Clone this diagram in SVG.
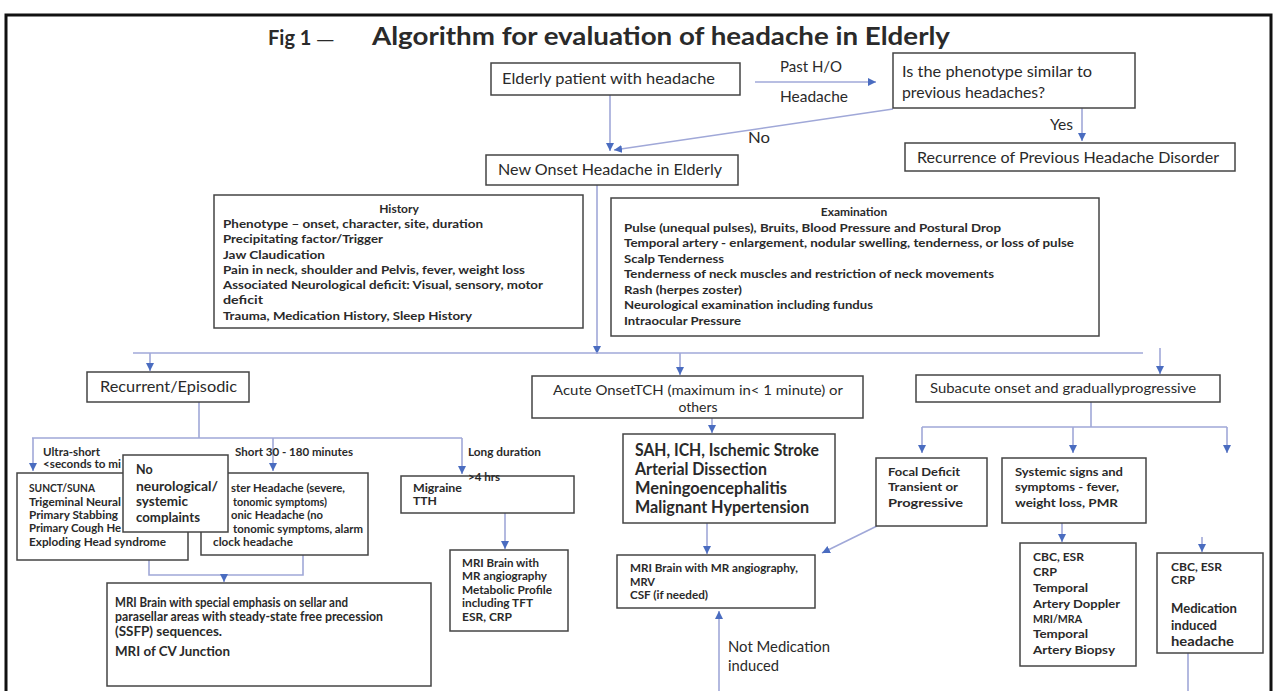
<svg xmlns="http://www.w3.org/2000/svg" width="1274" height="691" viewBox="0 0 1274 691">
<defs>
<marker id="ah" markerUnits="userSpaceOnUse" markerWidth="10" markerHeight="10" refX="8" refY="4" orient="auto"><path d="M0,0 L8,4 L0,8 z" fill="#4a6cc0"/></marker>
<style>
.box{fill:#fff;stroke:#444;stroke-width:1.5}
.t{font-family:Lato,"Open Sans","DejaVu Sans",sans-serif;fill:#2a2a2a;font-weight:700;font-size:11.5px}
.n{font-weight:400;font-size:12px}
.m{font-size:15px;font-weight:400}
.big{font-size:16.5px;font-weight:700}
.c{stroke:#a0a8d8;stroke-width:1.6;fill:none}
.a{marker-end:url(#ah)}
</style>
</defs>
<rect width="1274" height="691" fill="#fff"/>
<rect x="6" y="15" width="1265" height="700" fill="none" stroke="#111" stroke-width="3"/>
<g id="title">
<text class="t" x="268" y="45" style="font-size:20px">Fig 1 <tspan style="font-family:'DejaVu Sans',sans-serif;font-weight:400;font-size:18px">—</tspan></text>
<text class="t" x="372" y="45" style="font-size:25px" textLength="578" lengthAdjust="spacingAndGlyphs">Algorithm for evaluation of headache in Elderly</text>
</g>
<g id="connectors">
<path class="c a" d="M755,82 H876"/>
<path class="c a" d="M610,95 V151"/>
<path class="c a" d="M893,109 L614,150"/>
<path class="c a" d="M1082,108 V141"/>
<path class="c a" d="M597,185 V354"/>
<path class="c" d="M133,353 H1143"/>
<path class="c a" d="M150,353 V371"/>
<path class="c a" d="M680,353 V375"/>
<path class="c a" d="M1160,348 V374"/>
<path class="c" d="M199,402 V438 M32,438 H462"/>
<path class="c a" d="M33,438 V471"/>
<path class="c a" d="M273,438 V471"/>
<path class="c a" d="M462,438 V474"/>
<path class="c a" d="M505,513 V549"/>
<path class="c" d="M149,560 V575 H303 V555"/>
<path class="c a" d="M224,575 V582"/>
<path class="c a" d="M712,418 V433"/>
<path class="c a" d="M707,523 V554"/>
<path class="c a" d="M877,526 L822,553"/>
<path class="c a" d="M719,691 V611"/>
<path class="c" d="M1091,402 V427 M922,427 H1227"/>
<path class="c a" d="M922,427 V453"/>
<path class="c a" d="M1073,427 V453"/>
<path class="c a" d="M1227,427 V453"/>
<path class="c a" d="M1062,523 V542"/>
<path class="c a" d="M1202,537 V552"/>
<path class="c" d="M1188,653 V691"/>
</g>
<g id="labels">
<text class="t m" x="780" y="72" textLength="62" lengthAdjust="spacingAndGlyphs">Past H/O</text>
<text class="t m" x="780" y="102" textLength="68" lengthAdjust="spacingAndGlyphs">Headache</text>
<text class="t m" x="748" y="143" textLength="22" lengthAdjust="spacingAndGlyphs">No</text>
<text class="t m" x="1050" y="130" textLength="23" lengthAdjust="spacingAndGlyphs">Yes</text>
<text class="t" x="43" y="456" textLength="57" lengthAdjust="spacingAndGlyphs">Ultra-short</text>
<text class="t" x="43" y="468" textLength="78" lengthAdjust="spacingAndGlyphs">&lt;seconds to mi</text>
<text class="t" x="235" y="456" textLength="118" lengthAdjust="spacingAndGlyphs">Short 30 - 180 minutes</text>
<text class="t" x="468" y="456" textLength="73" lengthAdjust="spacingAndGlyphs">Long duration</text>
<text class="t m" x="728" y="652" textLength="102" lengthAdjust="spacingAndGlyphs">Not Medication</text>
<text class="t m" x="728" y="671" textLength="51" lengthAdjust="spacingAndGlyphs">induced</text>
</g>
<g id="elderly">
<rect class="box" x="491" y="63" width="249" height="32"/>
<text class="t m" x="502" y="84" textLength="213" lengthAdjust="spacingAndGlyphs">Elderly patient with headache</text>
</g>
<g id="phenotype">
<rect class="box" x="893" y="53" width="242" height="55"/>
<text class="t m" x="902" y="77" textLength="190" lengthAdjust="spacingAndGlyphs">Is the phenotype similar to</text>
<text class="t m" x="902" y="98" textLength="143" lengthAdjust="spacingAndGlyphs">previous headaches?</text>
</g>
<g id="recurrence">
<rect class="box" x="905" y="143" width="330" height="28"/>
<text class="t m" x="917" y="163" textLength="302" lengthAdjust="spacingAndGlyphs">Recurrence of Previous Headache Disorder</text>
</g>
<g id="newonset">
<rect class="box" x="486" y="155" width="252" height="30"/>
<text class="t m" x="498" y="175" textLength="224" lengthAdjust="spacingAndGlyphs">New Onset Headache in Elderly</text>
</g>
<g id="history">
<rect class="box" x="214" y="195" width="369" height="133"/>
<text class="t" x="399" y="213" text-anchor="middle" style="font-size:12px">History</text>
<text class="t" x="223" y="228" textLength="260" lengthAdjust="spacingAndGlyphs">Phenotype – onset, character, site, duration</text>
<text class="t" x="223" y="243" textLength="160" lengthAdjust="spacingAndGlyphs">Precipitating factor/Trigger</text>
<text class="t" x="223" y="259" textLength="102" lengthAdjust="spacingAndGlyphs">Jaw Claudication</text>
<text class="t" x="223" y="274" textLength="302" lengthAdjust="spacingAndGlyphs">Pain in neck, shoulder and Pelvis, fever, weight loss</text>
<text class="t" x="223" y="289" textLength="320" lengthAdjust="spacingAndGlyphs">Associated Neurological deficit: Visual, sensory, motor</text>
<text class="t" x="223" y="304" textLength="40" lengthAdjust="spacingAndGlyphs">deficit</text>
<text class="t" x="223" y="320" textLength="249" lengthAdjust="spacingAndGlyphs">Trauma, Medication History, Sleep History</text>
</g>
<g id="examination">
<rect class="box" x="611" y="198" width="488" height="138"/>
<text class="t" x="854" y="216" text-anchor="middle" style="font-size:12px">Examination</text>
<text class="t" x="624" y="232" textLength="377" lengthAdjust="spacingAndGlyphs">Pulse (unequal pulses), Bruits, Blood Pressure and Postural Drop</text>
<text class="t" x="624" y="247" textLength="450" lengthAdjust="spacingAndGlyphs">Temporal artery - enlargement, nodular swelling, tenderness, or loss of pulse</text>
<text class="t" x="624" y="263" textLength="100" lengthAdjust="spacingAndGlyphs">Scalp Tenderness</text>
<text class="t" x="624" y="278" textLength="370" lengthAdjust="spacingAndGlyphs">Tenderness of neck muscles and restriction of neck movements</text>
<text class="t" x="624" y="294" textLength="118" lengthAdjust="spacingAndGlyphs">Rash (herpes zoster)</text>
<text class="t" x="624" y="309" textLength="249" lengthAdjust="spacingAndGlyphs">Neurological examination including fundus</text>
<text class="t" x="624" y="325" textLength="117" lengthAdjust="spacingAndGlyphs">Intraocular Pressure</text>
</g>
<g id="recurrent">
<rect class="box" x="87" y="372" width="162" height="30"/>
<text class="t m" x="100" y="392" textLength="137" lengthAdjust="spacingAndGlyphs">Recurrent/Episodic</text>
</g>
<g id="acute">
<rect class="box" x="532" y="376" width="331" height="42"/>
<text class="t n" x="698" y="395" text-anchor="middle" style="font-size:14px" textLength="290" lengthAdjust="spacingAndGlyphs">Acute OnsetTCH (maximum in&lt; 1 minute) or</text>
<text class="t n" x="698" y="412" text-anchor="middle" style="font-size:14px">others</text>
</g>
<g id="subacute">
<rect class="box" x="916" y="375" width="304" height="27"/>
<text class="t n" x="930" y="393" style="font-size:14px" textLength="266" lengthAdjust="spacingAndGlyphs">Subacute onset and graduallyprogressive</text>
</g>
<g id="suncts">
<rect class="box" x="17" y="473" width="171" height="87"/>
<text class="t" x="29" y="492" textLength="66" lengthAdjust="spacingAndGlyphs">SUNCT/SUNA</text>
<text class="t" x="29" y="506" textLength="92" lengthAdjust="spacingAndGlyphs">Trigeminal Neural</text>
<text class="t" x="29" y="519" textLength="89" lengthAdjust="spacingAndGlyphs">Primary Stabbing</text>
<text class="t" x="29" y="532" textLength="92" lengthAdjust="spacingAndGlyphs">Primary Cough He</text>
<text class="t" x="29" y="546" textLength="137" lengthAdjust="spacingAndGlyphs">Exploding Head syndrome</text>
</g>
<g id="cluster">
<rect class="box" x="201" y="473" width="167" height="82"/>
<text class="t" x="231" y="492" textLength="114" lengthAdjust="spacingAndGlyphs">ster Headache (severe,</text>
<text class="t" x="233" y="506" textLength="94" lengthAdjust="spacingAndGlyphs">tonomic symptoms)</text>
<text class="t" x="231" y="519" textLength="92" lengthAdjust="spacingAndGlyphs">onic Headache (no</text>
<text class="t" x="233" y="533" textLength="130" lengthAdjust="spacingAndGlyphs">tonomic symptoms, alarm</text>
<text class="t" x="213" y="546" textLength="80" lengthAdjust="spacingAndGlyphs">clock headache</text>
</g>
<g id="noneuro">
<rect class="box" x="123" y="455" width="105" height="77"/>
<text class="t" x="136" y="474" style="font-size:12.5px">No</text>
<text class="t" x="136" y="491" style="font-size:12.5px" textLength="82" lengthAdjust="spacingAndGlyphs">neurological/</text>
<text class="t" x="136" y="506" style="font-size:12.5px" textLength="52" lengthAdjust="spacingAndGlyphs">systemic</text>
<text class="t" x="136" y="522" style="font-size:12.5px" textLength="64" lengthAdjust="spacingAndGlyphs">complaints</text>
</g>
<g id="migraine">
<rect class="box" x="401" y="476" width="173" height="37"/>
<text class="t" x="413" y="492" textLength="49" lengthAdjust="spacingAndGlyphs">Migraine</text>
<text class="t" x="413" y="505" textLength="24" lengthAdjust="spacingAndGlyphs">TTH</text>
<text class="t" x="468" y="481" textLength="32" lengthAdjust="spacingAndGlyphs">&gt;4 hrs</text>
</g>
<g id="mri-left">
<rect class="box" x="450" y="550" width="118" height="81"/>
<text class="t" x="462" y="567" textLength="77" lengthAdjust="spacingAndGlyphs">MRI Brain with</text>
<text class="t" x="462" y="580" textLength="85" lengthAdjust="spacingAndGlyphs">MR angiography</text>
<text class="t" x="462" y="594" textLength="90" lengthAdjust="spacingAndGlyphs">Metabolic Profile</text>
<text class="t" x="462" y="607" textLength="71" lengthAdjust="spacingAndGlyphs">including TFT</text>
<text class="t" x="462" y="621" textLength="50" lengthAdjust="spacingAndGlyphs">ESR, CRP</text>
</g>
<g id="mri-bottom">
<rect class="box" x="107" y="583" width="324" height="103"/>
<text class="t" x="115" y="607" style="font-size:13px" textLength="233" lengthAdjust="spacingAndGlyphs">MRI Brain with special emphasis on sellar and</text>
<text class="t" x="115" y="621" style="font-size:13px" textLength="268" lengthAdjust="spacingAndGlyphs">parasellar areas with steady-state free precession</text>
<text class="t" x="115" y="636" style="font-size:13px" textLength="107" lengthAdjust="spacingAndGlyphs">(SSFP) sequences.</text>
<text class="t" x="115" y="656" style="font-size:13px" textLength="115" lengthAdjust="spacingAndGlyphs">MRI of CV Junction</text>
</g>
<g id="sah">
<rect class="box" x="623" y="434" width="212" height="89"/>
<text class="t big" x="635" y="456" textLength="184" lengthAdjust="spacingAndGlyphs">SAH, ICH, Ischemic Stroke</text>
<text class="t big" x="635" y="475" textLength="132" lengthAdjust="spacingAndGlyphs">Arterial Dissection</text>
<text class="t big" x="635" y="494" textLength="152" lengthAdjust="spacingAndGlyphs">Meningoencephalitis</text>
<text class="t big" x="635" y="513" textLength="174" lengthAdjust="spacingAndGlyphs">Malignant Hypertension</text>
</g>
<g id="mri-mid">
<rect class="box" x="617" y="555" width="198" height="53"/>
<text class="t" x="630" y="572" textLength="168" lengthAdjust="spacingAndGlyphs">MRI Brain with MR angiography,</text>
<text class="t" x="630" y="586" textLength="25" lengthAdjust="spacingAndGlyphs">MRV</text>
<text class="t" x="630" y="599" textLength="78" lengthAdjust="spacingAndGlyphs">CSF (if needed)</text>
</g>
<g id="focal">
<rect class="box" x="876" y="458" width="111" height="68"/>
<text class="t" x="888" y="476" style="font-size:12px" textLength="72" lengthAdjust="spacingAndGlyphs">Focal Deficit</text>
<text class="t" x="888" y="491" style="font-size:12px" textLength="70" lengthAdjust="spacingAndGlyphs">Transient or</text>
<text class="t" x="888" y="507" style="font-size:12px" textLength="75" lengthAdjust="spacingAndGlyphs">Progressive</text>
</g>
<g id="systemic">
<rect class="box" x="1002" y="458" width="144" height="65"/>
<text class="t" x="1015" y="476" style="font-size:12px" textLength="108" lengthAdjust="spacingAndGlyphs">Systemic signs and</text>
<text class="t" x="1015" y="491" style="font-size:12px" textLength="104" lengthAdjust="spacingAndGlyphs">symptoms - fever,</text>
<text class="t" x="1015" y="507" style="font-size:12px" textLength="103" lengthAdjust="spacingAndGlyphs">weight loss, PMR</text>
</g>
<g id="cbc1">
<rect class="box" x="1020" y="543" width="116" height="123"/>
<text class="t" x="1033" y="561" style="font-size:12px" textLength="51" lengthAdjust="spacingAndGlyphs">CBC, ESR</text>
<text class="t" x="1033" y="576" style="font-size:12px" textLength="24" lengthAdjust="spacingAndGlyphs">CRP</text>
<text class="t" x="1033" y="592" style="font-size:12px" textLength="55" lengthAdjust="spacingAndGlyphs">Temporal</text>
<text class="t" x="1033" y="608" style="font-size:12px" textLength="87" lengthAdjust="spacingAndGlyphs">Artery Doppler</text>
<text class="t" x="1033" y="623" style="font-size:12px" textLength="49" lengthAdjust="spacingAndGlyphs">MRI/MRA</text>
<text class="t" x="1033" y="638" style="font-size:12px" textLength="55" lengthAdjust="spacingAndGlyphs">Temporal</text>
<text class="t" x="1033" y="654" style="font-size:12px" textLength="82" lengthAdjust="spacingAndGlyphs">Artery Biopsy</text>
</g>
<g id="cbc2">
<rect class="box" x="1157" y="553" width="106" height="100"/>
<text class="t" x="1171" y="571" style="font-size:12px" textLength="51" lengthAdjust="spacingAndGlyphs">CBC, ESR</text>
<text class="t" x="1171" y="584" style="font-size:12px" textLength="24" lengthAdjust="spacingAndGlyphs">CRP</text>
<text class="t" x="1171" y="613" style="font-size:13px" textLength="66" lengthAdjust="spacingAndGlyphs">Medication</text>
<text class="t" x="1171" y="630" style="font-size:13px" textLength="46" lengthAdjust="spacingAndGlyphs">induced</text>
<text class="t" x="1171" y="646" style="font-size:13px" textLength="63" lengthAdjust="spacingAndGlyphs">headache</text>
</g>
</svg>
